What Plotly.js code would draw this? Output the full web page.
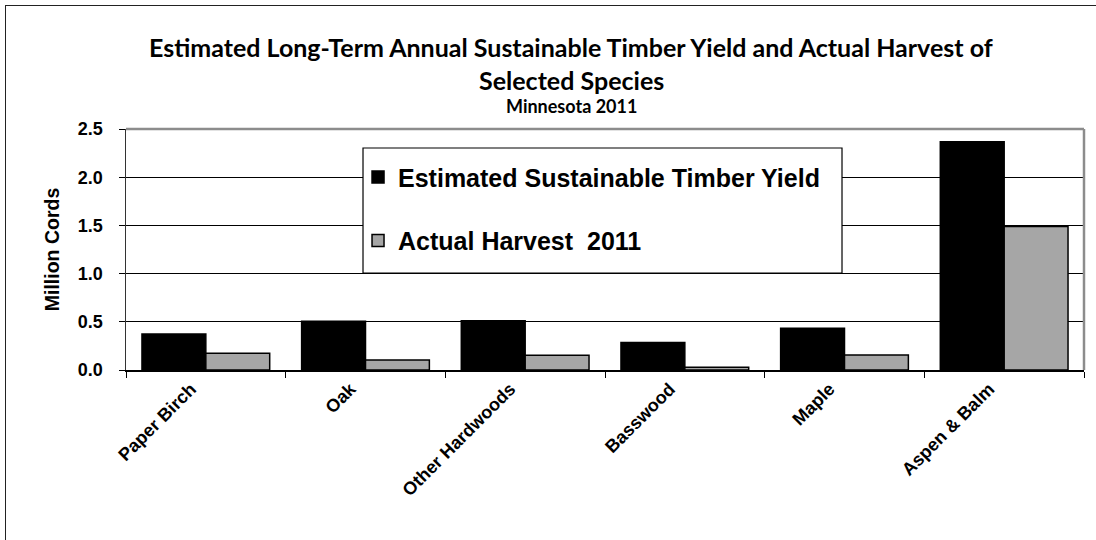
<!DOCTYPE html>
<html>
<head>
<meta charset="utf-8">
<script src="https://cdn.plot.ly/plotly-3.0.1.min.js"></script>
<style>
  html, body { margin: 0; padding: 0; background: #fff; }
  #wrap { position: relative; width: 1096px; height: 540px; overflow: hidden; }
  #chart { width: 1096px; height: 540px; }
  #frame { position: absolute; left: 5px; top: 5px; width: 1200px; height: 700px;
           border-left: 1.5px solid #222; border-top: 1.5px solid #222; pointer-events: none; }
</style>
</head>
<body>
<div id="wrap">
  <div id="chart"></div>
  <div id="frame"></div>
</div>
<script>
const categories = ["Paper Birch", "Oak", "Other Hardwoods", "Basswood", "Maple", "Aspen & Balm"];
const sustainableYield = [0.374, 0.505, 0.512, 0.284, 0.433, 2.368];
const actualHarvest = [0.173, 0.104, 0.152, 0.028, 0.155, 1.488];
const seriesNames = ["Estimated Sustainable Timber Yield", "Actual Harvest  2011"];
const yTickVals = [0, 0.5, 1.0, 1.5, 2.0, 2.5];
const yTickText = ["0.0", "0.5", "1.0", "1.5", "2.0", "2.5"];

const arial = "Liberation Sans, Arial, sans-serif";
const titleFont = "Lato, Open Sans, sans-serif";

const traces = [
  {
    type: "bar", x: categories, y: sustainableYield, name: seriesNames[0],
    marker: { color: "#000000", line: { color: "#000000", width: 1.5 } },
    legendgroup: "a", hoverinfo: "x+y"
  },
  {
    type: "bar", x: categories, y: actualHarvest, name: seriesNames[1],
    marker: { color: "#a6a6a6", line: { color: "#000000", width: 1.5 } },
    legendgroup: "b", hoverinfo: "x+y"
  }
];

const layout = {
  width: 1096, height: 540,
  margin: { l: 126, r: 12, t: 129, b: 170 },
  paper_bgcolor: "rgba(0,0,0,0)", plot_bgcolor: "#ffffff",
  barmode: "group", bargap: 0.2, bargroupgap: 0,
  showlegend: true,
  legend: {
    x: 0.2422, y: 0.895, xanchor: "left", yanchor: "top",
    bgcolor: "rgba(0,0,0,0)", borderwidth: 0,
    font: { family: arial, size: 25, color: "#000", weight: "bold" },
    tracegroupgap: 28, traceorder: "grouped"
  },
  xaxis: {
    type: "category", tickangle: -45,
    tickfont: { family: arial, size: 18, color: "#000", weight: "bold" },
    showline: true, linecolor: "#000", linewidth: 1.5,
    ticks: "outside", tickson: "boundaries", ticklen: 6, tickcolor: "#000",
    ticklabelshift: -15,
    showgrid: false, zeroline: false, fixedrange: true
  },
  yaxis: {
    range: [0, 2.5], tickvals: yTickVals, ticktext: yTickText,
    tickfont: { family: arial, size: 18, color: "#000", weight: "bold" },
    showline: true, linecolor: "#333", linewidth: 1.5,
    ticks: "outside", ticklen: 6, tickcolor: "#000", ticklabelstandoff: 12,
    showgrid: true, gridcolor: "#000", gridwidth: 1, zeroline: false,
    title: { text: "Million Cords", font: { family: arial, size: 19.5, color: "#000", weight: "bold" }, standoff: 13 },
    fixedrange: true
  },
  shapes: [
    { type: "line", xref: "paper", yref: "paper", x0: 0, x1: 1, y0: 1, y1: 1, line: { color: "#8c8c8c", width: 2.5 } },
    { type: "line", xref: "paper", yref: "paper", x0: 1, x1: 1, y0: 0, y1: 1, line: { color: "#8c8c8c", width: 2.5 } },
    { type: "rect", xref: "paper", yref: "paper", x0: 0.2474, x1: 0.7474, y0: 0.4025, y1: 0.9212,
      line: { color: "#000", width: 1.2 }, fillcolor: "#ffffff", layer: "above" }
  ],
  annotations: [
    { xref: "paper", yref: "paper", x: 0.465, y: 1.34, xanchor: "center", yanchor: "middle", showarrow: false,
      text: "<b>Estimated Long-Term Annual Sustainable Timber Yield and Actual Harvest of</b>",
      font: { family: titleFont, size: 25, color: "#000" } },
    { xref: "paper", yref: "paper", x: 0.465, y: 1.203, xanchor: "center", yanchor: "middle", showarrow: false,
      text: "<b>Selected Species</b>",
      font: { family: titleFont, size: 25, color: "#000" } },
    { xref: "paper", yref: "paper", x: 0.465, y: 1.096, xanchor: "center", yanchor: "middle", showarrow: false,
      text: "<b>Minnesota 2011</b>",
      font: { family: titleFont, size: 18, color: "#000" } }
  ]
};

Plotly.newPlot("chart", traces, layout, { displayModeBar: false, staticPlot: true });
</script>
</body>
</html>
